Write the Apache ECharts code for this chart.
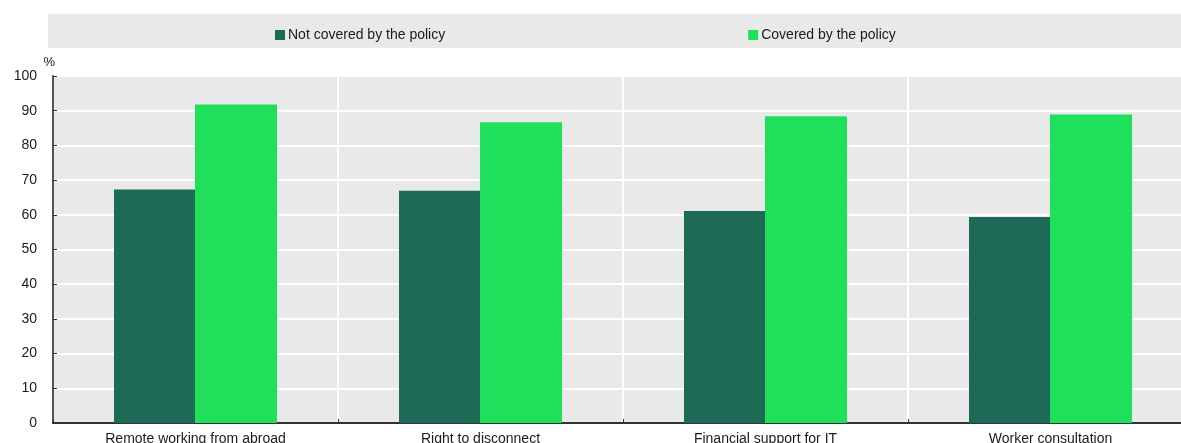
<!DOCTYPE html>
<html>
<head>
<meta charset="utf-8">
<script src="https://cdn.jsdelivr.net/npm/echarts@6/dist/echarts.min.js"></script>
<style>
html,body{margin:0;padding:0;background:#fff;}
#chart{width:1181px;height:443px;}
</style>
</head>
<body>
<div id="chart"></div>
<script>
const categories = ['Remote working from abroad', 'Right to disconnect', 'Financial support for IT', 'Worker consultation'];
const seriesNames = ['Not covered by the policy', 'Covered by the policy'];
const notCovered = [67.3, 66.9, 61.1, 59.4];
const covered = [91.8, 86.7, 88.4, 88.9];
const yTicks = { min: 0, max: 100, interval: 10 };

const chart = echarts.init(document.getElementById('chart'), null, { renderer: 'canvas' });
const font = 'Liberation Sans, Arial, sans-serif';
chart.setOption({
  animation: false,
  graphic: [{
    type: 'rect', z: -10,
    shape: { x: 48, y: 14, width: 1140, height: 34 },
    style: { fill: '#e9e9e9' }
  }],
  legend: {
    left: 270, top: 23,
    itemWidth: 10, itemHeight: 10, itemGap: 303,
    icon: 'rect',
    textStyle: { fontFamily: font, fontSize: 14, color: '#1a1a1a', padding: [0, 0, 0, -2] },
    data: seriesNames
  },
  grid: {
    left: 53, top: 76, width: 1140, height: 347,
    outerBoundsMode: 'none',
    containLabel: false,
    show: true, backgroundColor: '#e9e9e9', borderWidth: 0
  },
  xAxis: {
    type: 'category',
    data: categories,
    axisLine: { show: true, lineStyle: { color: '#333', width: 2 } },
    axisTick: { show: true, inside: true, length: 4, lineStyle: { color: '#333' } },
    splitLine: { show: true, lineStyle: { color: '#ffffff', width: 2 } },
    axisLabel: { fontFamily: font, fontSize: 14, color: '#1a1a1a', margin: 9, interval: 0 }
  },
  yAxis: {
    type: 'value',
    min: yTicks.min, max: yTicks.max, interval: yTicks.interval,
    name: '%', nameLocation: 'end', nameGap: 7,
    nameTextStyle: { fontFamily: font, fontSize: 13, color: '#1a1a1a', align: 'right', padding: [0, -2, 0, 0] },
    axisLine: { show: true, lineStyle: { color: '#555', width: 2 } },
    axisTick: { show: true, inside: true, length: 4, lineStyle: { color: '#333' } },
    splitLine: { show: true, lineStyle: { color: '#ffffff', width: 2 } },
    axisLabel: { fontFamily: font, fontSize: 14, color: '#1a1a1a', margin: 16 }
  },
  series: [
    {
      name: seriesNames[0], type: 'bar', data: notCovered,
      barWidth: 81, barGap: '0%',
      itemStyle: { color: '#1d6b57' }
    },
    {
      name: seriesNames[1], type: 'bar', data: covered,
      barWidth: 82, barGap: '0%',
      itemStyle: { color: '#20e05b' }
    }
  ]
});
</script>
</body>
</html>
